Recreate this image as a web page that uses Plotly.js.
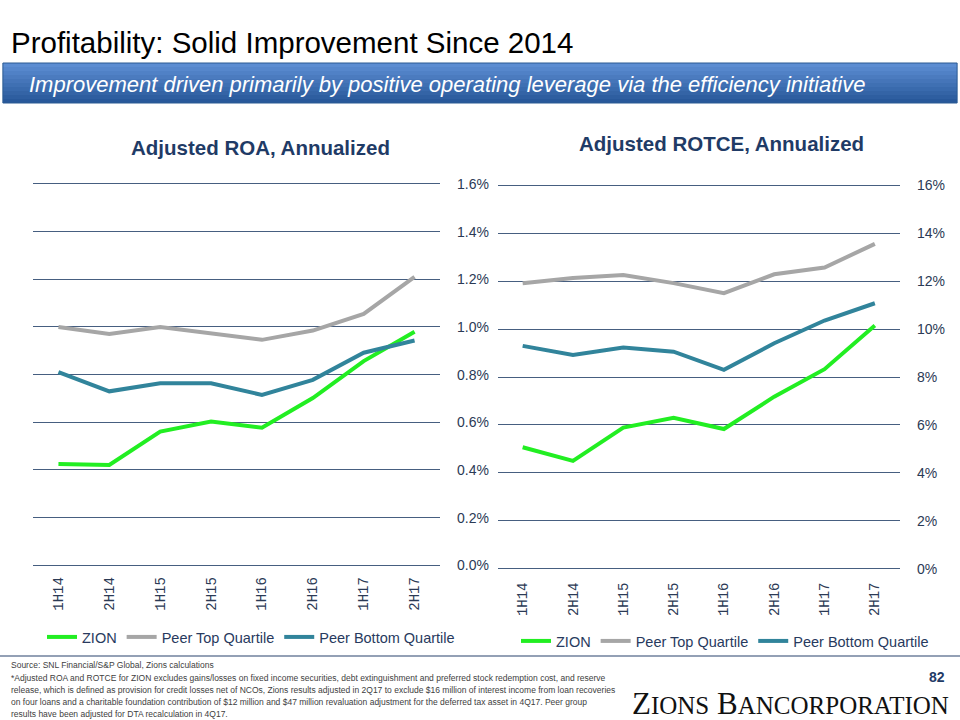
<!DOCTYPE html>
<html><head><meta charset="utf-8">
<script src="https://cdn.plot.ly/plotly-3.0.1.min.js"></script>
<style>html,body{margin:0;padding:0;background:#fff}#c{width:960px;height:720px}</style>
</head><body><div id="c"></div>
<script>
const periods = ["1H14","2H14","1H15","2H15","1H16","2H16","1H17","2H17"];
const roaZion = [0.425, 0.421, 0.561, 0.603, 0.577, 0.702, 0.857, 0.980];
const roaTop = [1.00, 0.971, 1.00, 0.974, 0.946, 0.985, 1.055, 1.21];
const roaBottom = [0.811, 0.730, 0.764, 0.764, 0.715, 0.778, 0.892, 0.943];
const rotceZion = [5.07, 4.50, 5.89, 6.30, 5.83, 7.18, 8.33, 10.15];
const rotceTop = [11.92, 12.13, 12.26, 11.92, 11.50, 12.29, 12.57, 13.56];
const rotceBottom = [9.30, 8.92, 9.23, 9.06, 8.30, 9.41, 10.36, 11.08];
const seriesNames = ["ZION","Peer Top Quartile","Peer Bottom Quartile"];
const roaTickVals = [0,0.2,0.4,0.6,0.8,1.0,1.2,1.4,1.6];
const roaTickText = ["0.0%","0.2%","0.4%","0.6%","0.8%","1.0%","1.2%","1.4%","1.6%"];
const rotceTickVals = [0,2,4,6,8,10,12,14,16];
const rotceTickText = ["0%","2%","4%","6%","8%","10%","12%","14%","16%"];
const colors = ["#22EE22","#A6A6A6","#31849B"];
const footLines = [
"Source: SNL Financial/S&P Global, Zions calculations",
"*Adjusted ROA and ROTCE for ZION excludes gains/losses on fixed income securities, debt extinguishment and preferred stock redemption cost, and reserve",
"release, which is defined as provision for credit losses net of NCOs, Zions results adjusted in 2Q17 to exclude $16 million of interest income from loan recoveries",
"on four loans and a charitable foundation contribution of $12 million and $47 million revaluation adjustment for the deferred tax asset in 4Q17. Peer group",
"results have been adjusted for DTA recalculation in 4Q17."
];

const roaSets = [roaZion, roaTop, roaBottom];
const rotceSets = [rotceZion, rotceTop, rotceBottom];
const traces = [];
roaSets.forEach((ys,i)=>traces.push({x:periods,y:ys,name:seriesNames[i],type:'scatter',mode:'lines',
  line:{color:colors[i],width:4},xaxis:'x',yaxis:'y',legend:'legend'}));
rotceSets.forEach((ys,i)=>traces.push({x:periods,y:ys,name:seriesNames[i],type:'scatter',mode:'lines',
  line:{color:colors[i],width:4},xaxis:'x2',yaxis:'y2',legend:'legend2'}));

const gridC = "#465E80";
const navyTxt = "#2B3A55";
const tickFont = {family:"Liberation Sans, Arial, sans-serif",size:14,color:navyTxt};
const xFont = {family:"Liberation Mono, DejaVu Sans Mono, monospace",size:14,color:navyTxt};
const legFont = {family:"Liberation Sans, Arial, sans-serif",size:14.5,color:"#283A5E"};

const shapes = [];
const bTop=63, bBot=103, nStrip=10;
for(let k=0;k<nStrip;k++){
  const t=k/(nStrip-1);
  const r=Math.round(92+(40-92)*t), g=Math.round(141+(88-141)*t), b=Math.round(210+(154-210)*t);
  shapes.push({type:'rect',xref:'paper',yref:'paper',x0:0.003,x1:0.997,
    y0:(720-(bTop+(bBot-bTop)*(k+1)/nStrip))/720,y1:(720-(bTop+(bBot-bTop)*k/nStrip))/720,
    fillcolor:`rgb(${r},${g},${b})`,line:{width:0},layer:'below'});
}
shapes.push({type:'rect',xref:'paper',yref:'paper',x0:0.003,x1:0.997,y0:(720-bBot)/720,y1:(720-bTop)/720,
  fillcolor:'rgba(0,0,0,0)',line:{color:'#2B5A93',width:1}});
shapes.push({type:'line',xref:'paper',yref:'paper',x0:0,x1:1,y0:(720-656)/720,y1:(720-656)/720,
  line:{color:'#6F819C',width:1.5}});

const annotations = [
  {text:"Profitability: Solid Improvement Since 2014",xref:'paper',yref:'paper',x:9/960,y:(720-42)/720,
    xanchor:'left',yanchor:'middle',showarrow:false,font:{family:"Liberation Sans, Arial",size:29.5,color:'#000'}},
  {text:"<i>Improvement driven primarily by positive operating leverage via the efficiency initiative</i>",xref:'paper',yref:'paper',
    x:27/960,y:(720-84)/720,xanchor:'left',yanchor:'middle',showarrow:false,
    font:{family:"Liberation Sans, Arial",size:22,color:'#fff'}},
  {text:"<b>Adjusted ROA, Annualized</b>",xref:'paper',yref:'paper',x:260/960,y:(720-147)/720,xanchor:'center',yanchor:'middle',
    showarrow:false,font:{family:"Liberation Sans, Arial",size:20.5,color:'#1F3B66'}},
  {text:"<b>Adjusted ROTCE, Annualized</b>",xref:'paper',yref:'paper',x:721/960,y:(720-144)/720,xanchor:'center',yanchor:'middle',
    showarrow:false,font:{family:"Liberation Sans, Arial",size:20.5,color:'#1F3B66'}},
  {text:"<b>82</b>",xref:'paper',yref:'paper',x:947/960,y:(720-677)/720,xanchor:'right',yanchor:'middle',showarrow:false,
    font:{family:"Liberation Sans, Arial",size:14,color:'#1F3B66'}},
  {text:"Z<span style='font-size:25px'>IONS</span> B<span style='font-size:25px'>ANCORPORATION</span>",xref:'paper',yref:'paper',
    x:950/960,y:(720-703)/720,xanchor:'right',yanchor:'middle',showarrow:false,borderpad:0,
    font:{family:"Liberation Serif, DejaVu Serif, serif",size:31,color:'#111'}}
];
const footY = [665, 677.5, 690, 702, 714];
footLines.forEach((s,i)=>annotations.push({text:s,xref:'paper',yref:'paper',x:10/960,y:(720-footY[i])/720,
  xanchor:'left',yanchor:'middle',align:'left',showarrow:false,borderpad:0,
  font:{family:"Liberation Sans, Arial",size:8.5,color:'#404040'}}));

const layout = {
  width:960,height:720,margin:{l:0,r:0,t:0,b:0},paper_bgcolor:'#fff',plot_bgcolor:'rgba(0,0,0,0)',
  showlegend:true,
  xaxis:{domain:[33/960,440/960],type:'category',range:[-0.5,7.5],tickangle:-90,tickfont:xFont,showgrid:false,zeroline:false,
    showline:false,ticks:'',ticklabelstandoff:8},
  yaxis:{domain:[(720-565.3)/720,(720-181.6)/720],range:[0,1.61],tickmode:'array',tickvals:roaTickVals,ticktext:roaTickText,
    side:'right',anchor:'x',showgrid:true,gridcolor:gridC,gridwidth:1,zeroline:true,zerolinecolor:gridC,zerolinewidth:1,
    tickfont:tickFont,ticks:'',ticklabelstandoff:16,showline:false},
  xaxis2:{domain:[497.5/960,900/960],type:'category',range:[-0.5,7.5],tickangle:-90,tickfont:xFont,showgrid:false,zeroline:false,
    showline:false,ticks:'',anchor:'y2',ticklabelstandoff:10},
  yaxis2:{domain:[(720-568.7)/720,(720-183.0)/720],range:[0,16.1],tickmode:'array',tickvals:rotceTickVals,ticktext:rotceTickText,
    side:'right',anchor:'x2',showgrid:true,gridcolor:gridC,gridwidth:1,zeroline:true,zerolinecolor:gridC,zerolinewidth:1,
    tickfont:tickFont,ticks:'',ticklabelstandoff:16,showline:false},
  legend:{orientation:'h',x:251/960,xanchor:'center',y:(720-637)/720,yanchor:'middle',
    font:legFont,itemwidth:30,bgcolor:'rgba(0,0,0,0)'},
  legend2:{orientation:'h',x:725/960,xanchor:'center',y:(720-641)/720,yanchor:'middle',
    font:legFont,itemwidth:30,bgcolor:'rgba(0,0,0,0)'},
  shapes:shapes,
  annotations:annotations
};
Plotly.newPlot('c',traces,layout,{staticPlot:true,displayModeBar:false});
</script></body></html>
